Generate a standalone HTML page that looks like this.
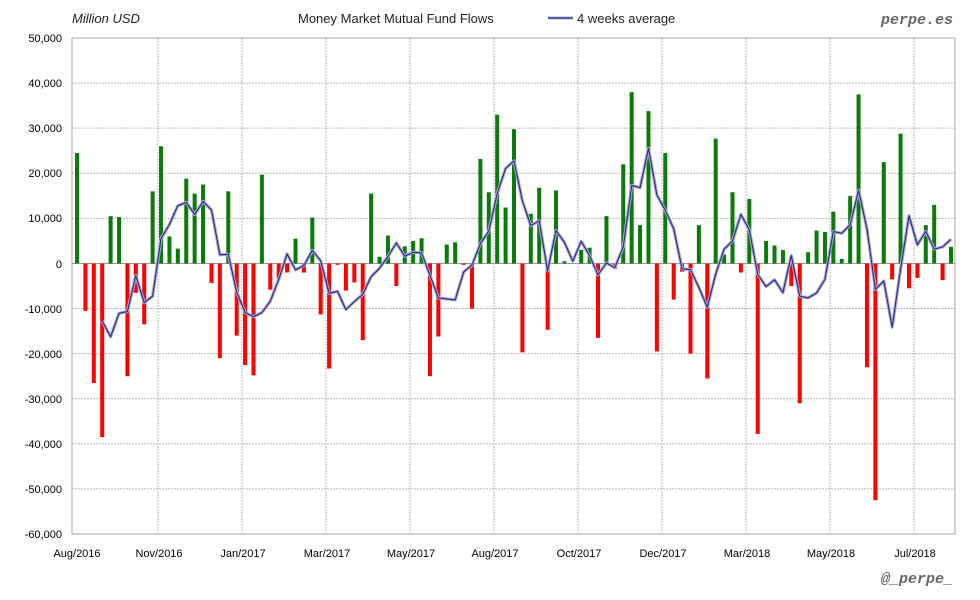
<!DOCTYPE html>
<html><head><meta charset="utf-8"><style>
body{margin:0;background:#fff;}
svg{display:block;font-family:"Liberation Sans",sans-serif;}
</style></head><body>
<svg id="c" width="980" height="600" viewBox="0 0 980 600" xmlns="http://www.w3.org/2000/svg">
<rect x="0" y="0" width="980" height="600" fill="#fff"/>
<g id="grid"></g>
<rect x="72" y="38" width="883" height="496" fill="none" stroke="#aaa" stroke-width="1"/>
<line x1="72" y1="263.5" x2="955" y2="263.5" stroke="#999" stroke-width="1"/>
<g id="bars"></g>
<polyline id="avg1" fill="none" stroke="#a8a8d8" stroke-width="3.2" stroke-linejoin="round"/>
<polyline id="avg2" fill="none" stroke="#2a2a7a" stroke-width="1.1" stroke-linejoin="round"/>
<g font-size="11" fill="#000" text-anchor="end">
<text x="62" y="42">50,000</text><text x="62" y="87">40,000</text><text x="62" y="132">30,000</text>
<text x="62" y="177">20,000</text><text x="62" y="222">10,000</text><text x="62" y="268">0</text>
<text x="62" y="313">-10,000</text><text x="62" y="358">-20,000</text><text x="62" y="403">-30,000</text>
<text x="62" y="448">-40,000</text><text x="62" y="493">-50,000</text><text x="62" y="538">-60,000</text>
</g>
<g font-size="11" fill="#000" text-anchor="middle">
<text x="77" y="557">Aug/2016</text><text x="159" y="557">Nov/2016</text><text x="243" y="557">Jan/2017</text>
<text x="327" y="557">Mar/2017</text><text x="411" y="557">May/2017</text><text x="495" y="557">Aug/2017</text>
<text x="579" y="557">Oct/2017</text><text x="663" y="557">Dec/2017</text><text x="747" y="557">Mar/2018</text>
<text x="831" y="557">May/2018</text><text x="915" y="557">Jul/2018</text>
</g>
<text x="72" y="23" font-size="13" font-style="italic" fill="#222">Million USD</text>
<text x="298" y="23" font-size="13" fill="#222">Money Market Mutual Fund Flows</text>
<line x1="548" y1="18" x2="573" y2="18" stroke="#a8a8d8" stroke-width="3"/>
<line x1="548" y1="18" x2="573" y2="18" stroke="#2a2a7a" stroke-width="1.2"/>
<text x="577" y="23" font-size="13" fill="#222">4 weeks average</text>
<text x="953" y="24" font-size="15" font-weight="bold" font-style="italic" fill="#666" text-anchor="end" font-family="Liberation Mono,monospace">perpe.es</text>
<text x="953" y="583" font-size="15" font-weight="bold" font-style="italic" fill="#666" text-anchor="end" font-family="Liberation Mono,monospace">@_perpe_</text>
</svg>
<script>
var v=[24.5,-10.5,-26.5,-38.5,10.5,10.3,-25,-6.5,-13.5,16,26,6,3.3,18.8,15.5,17.5,-4.3,-21,16,-16,-22.5,-24.8,19.7,-5.8,-3.4,-2,5.5,-2,10.2,-11.3,-23.3,-0.3,-6,-4.2,-17,15.5,1.5,6.2,-5,3.8,5,5.6,-25,-16.2,4.2,4.7,-0.3,-10,23.2,15.8,33,12.4,29.8,-19.7,11,16.8,-14.7,16.2,0.5,0,3,3.5,-16.5,10.5,-1.2,22,38,8.5,33.8,-19.5,24.5,-8,-1.8,-20,8.5,-25.5,27.7,2,15.8,-2,14.3,-37.8,5,4,3,-5,-31,2.5,7.3,7,11.5,1,15,37.5,-23,-52.5,22.5,-3.5,28.8,-5.5,-3.2,8.5,13,-3.7,3.7];
var NS="http://www.w3.org/2000/svg",z=263.5,k=4.509;
function el(t,a,p){var e=document.createElementNS(NS,t);for(var q in a)e.setAttribute(q,a[q]);p.appendChild(e);}
var g=document.getElementById('grid');
for(var i=1;i<11;i++){var y=38+i*45.09;el('line',{x1:72,x2:955,y1:y,y2:y,stroke:'#bbb','stroke-dasharray':'2,1'},g);}
[158,242,326,410,494,578,662,746,830,914].forEach(function(x){el('line',{x1:x,x2:x,y1:38,y2:534,stroke:'#bbb','stroke-dasharray':'2,1'},g);});
var b=document.getElementById('bars'),n=v.length,pts=[];
for(var i=0;i<n;i++){var x=77+i*(874/(n-1)),h=v[i]*k;
el('rect',{x:x-2,y:h>0?z-h:z,width:4,height:Math.abs(h),fill:h>0?'#0a7a0a':'#f00'},b);
if(i>=3){var a=(v[i]+v[i-1]+v[i-2]+v[i-3])/4;pts.push(x.toFixed(1)+','+(z-a*k).toFixed(1));}}
document.getElementById('avg1').setAttribute('points',pts.join(' '));
document.getElementById('avg2').setAttribute('points',pts.join(' '));
</script>
</body></html>
